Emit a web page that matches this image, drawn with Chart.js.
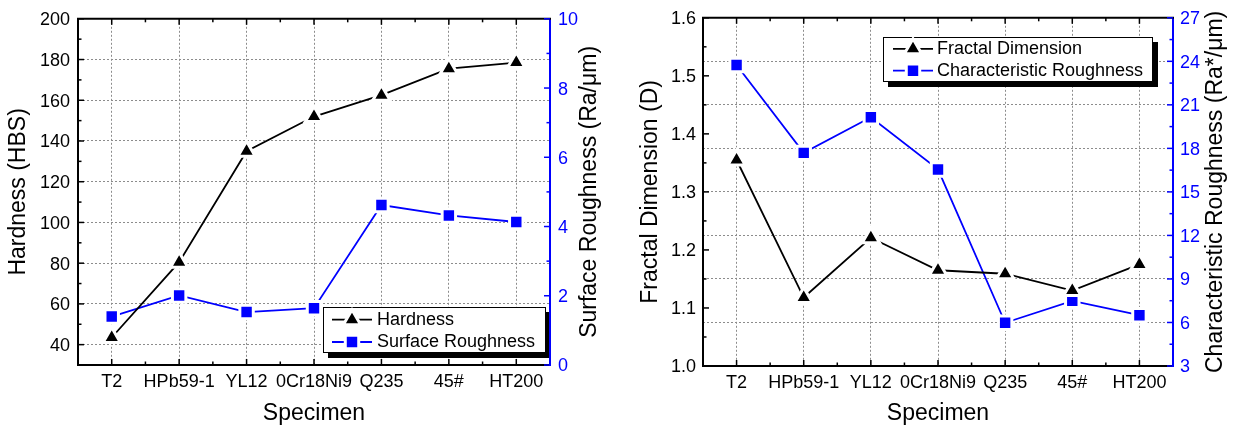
<!DOCTYPE html>
<html><head><meta charset="utf-8">
<script src="https://cdn.jsdelivr.net/npm/chart.js@4.4.1/dist/chart.umd.min.js"></script>
<style>
html,body{margin:0;padding:0;background:#fff;}
#wrap{position:relative;width:1235px;height:428px;overflow:hidden;background:#fff;}
.box{position:absolute;top:0;height:428px;}
#b1{left:0;width:617px;}
#b2{left:617px;width:618px;}
</style></head><body>
<div id="wrap">
  <div class="box" id="b1"><canvas id="c1"></canvas></div>
  <div class="box" id="b2"><canvas id="c2"></canvas></div>
</div>
<script>
// ---------------- data ----------------
const specimens = ['T2', 'HPb59-1', 'YL12', '0Cr18Ni9', 'Q235', '45#', 'HT200'];
const hardness = [43.5, 80.5, 135, 152, 162.5, 175.5, 178.5];
const surfaceRoughness = [1.40, 2.01, 1.53, 1.64, 4.62, 4.32, 4.13];
const fractalDimension = [1.355, 1.118, 1.221, 1.165, 1.159, 1.130, 1.175];
const characteristicRoughness = [23.75, 17.69, 20.14, 16.55, 5.98, 7.49, 6.50];

const hardnessTicks = [40, 60, 80, 100, 120, 140, 160, 180, 200];
const surfaceTicks = [0, 2, 4, 6, 8, 10];
const fractalTicks = [1.0, 1.1, 1.2, 1.3, 1.4, 1.5, 1.6];
const charTicks = [3, 6, 9, 12, 15, 18, 21, 24, 27];

// ---------------- style ----------------
const FONT = "'Liberation Sans', Arial, sans-serif";
const BLUE = '#0000ff';
const GRID = '#8c8c8c';
Chart.defaults.font.family = FONT;

function marker(ctx, style, r, x, y) {
  ctx.beginPath();
  if (style === 'triangle') {
    let a = 0;
    ctx.moveTo(x + Math.sin(a) * r, y - Math.cos(a) * r);
    a += 2 * Math.PI / 3;
    ctx.lineTo(x + Math.sin(a) * r, y - Math.cos(a) * r);
    a += 2 * Math.PI / 3;
    ctx.lineTo(x + Math.sin(a) * r, y - Math.cos(a) * r);
    ctx.closePath();
  } else {
    const s = Math.SQRT1_2 * r;
    ctx.rect(x - s, y - s, 2 * s, 2 * s);
  }
  ctx.fill();
  ctx.stroke();
}

const originFrame = {
  id: 'originFrame',
  afterDraw(chart, args, o) {
    const ctx = chart.ctx, a = chart.chartArea;
    const xs = chart.scales.x, yl = chart.scales.y, yr = chart.scales.y1;
    const MAJ = 6, MIN = 3.5;
    const seg = (x1, y1, x2, y2) => { ctx.beginPath(); ctx.moveTo(x1, y1); ctx.lineTo(x2, y2); ctx.stroke(); };
    ctx.save();
    // top frame line
    ctx.strokeStyle = '#000'; ctx.lineWidth = 2;
    seg(a.left - 1, a.top, a.right + 1, a.top);
    // x ticks (bottom + mirrored top), inward
    ctx.lineWidth = 1.5;
    const n = xs.getLabels().length;
    for (let i = 0; i < n; i++) {
      const p = xs.getPixelForValue(i);
      seg(p, a.bottom, p, a.bottom - MAJ);
      seg(p, a.top, p, a.top + MAJ);
      if (i > 0) {
        const m = xs.getPixelForValue(i - 0.5);
        seg(m, a.bottom, m, a.bottom - MIN);
        seg(m, a.top, m, a.top + MIN);
      }
    }
    const yTicks = (scale, vals, x0, dir, color) => {
      ctx.strokeStyle = color;
      vals.forEach((v, i) => {
        const p = scale.getPixelForValue(v);
        seg(x0, p, x0 + dir * MAJ, p);
        if (i > 0) {
          const m = scale.getPixelForValue((v + vals[i - 1]) / 2);
          seg(x0, m, x0 + dir * MIN, m);
        }
      });
    };
    yTicks(yl, o.leftTicks, a.left, 1, '#000');
    yTicks(yr, o.rightTicks, a.right, -1, BLUE);
    // right axis title (reads bottom-to-top)
    ctx.save();
    ctx.translate(o.rightTitle.x, (a.top + a.bottom) / 2);
    ctx.rotate(-Math.PI / 2);
    ctx.font = '23px ' + FONT;
    ctx.fillStyle = '#000';
    ctx.textAlign = 'center';
    ctx.textBaseline = 'middle';
    ctx.fillText(o.rightTitle.text, 0, 0);
    ctx.restore();
    // legend with shadow
    const L = o.legend;
    ctx.save();
    ctx.beginPath();
    ctx.rect(a.left + 1, a.top + 1, a.right - a.left - 2, a.bottom - a.top - 2);
    ctx.clip();
    ctx.fillStyle = '#000'; ctx.fillRect(L.x + 5, L.y + 5, L.w, L.h);
    ctx.fillStyle = '#fff'; ctx.fillRect(L.x, L.y, L.w, L.h);
    ctx.strokeStyle = '#000'; ctx.lineWidth = 1;
    ctx.strokeRect(L.x + 0.5, L.y + 0.5, L.w - 1, L.h - 1);
    chart.data.datasets.forEach((ds, i) => {
      const y = L.y + L.row0 + i * L.gap;
      ctx.strokeStyle = ds.borderColor; ctx.lineWidth = ds.borderWidth;
      seg(L.lx1, y, L.lx2, y);
      ctx.fillStyle = ds.pointBackgroundColor;
      ctx.strokeStyle = ds.pointBorderColor;
      ctx.lineWidth = ds.pointBorderWidth;
      marker(ctx, ds.pointStyle, ds.pointRadius, L.mx, y);
      ctx.fillStyle = '#000';
      ctx.font = '18px ' + FONT;
      ctx.textAlign = 'left';
      ctx.textBaseline = 'middle';
      ctx.fillText(ds.label, L.tx, y);
    });
    ctx.restore();
    ctx.restore();
  }
};

function ds(label, data, axis, color, style) {
  return {
    label, data, yAxisID: axis,
    borderColor: color, backgroundColor: color, borderWidth: 1.8, tension: 0,
    pointStyle: style, pointRadius: style === 'triangle' ? 10 : 9.5,
    pointBackgroundColor: color, pointBorderColor: '#fff', pointBorderWidth: 3,
    pointHoverRadius: style === 'triangle' ? 10 : 9.5
  };
}

function xScale(height) {
  return {
    type: 'category', offset: true,
    grid: { color: GRID, lineWidth: 1, drawTicks: false },
    border: { display: true, color: '#000', width: 2, dash: [2, 2] },
    ticks: { color: '#000', font: { size: 18 }, padding: 6, maxRotation: 0, autoSkip: false },
    title: { display: true, text: 'Specimen', color: '#000', font: { size: 23 }, padding: { top: 0, bottom: 1 } },
    afterFit: s => { s.height = height; }
  };
}

function yScale(pos, min, max, tickVals, color, width, gridOn, pad, fmt, title, titlePad) {
  const o = {
    type: 'linear', position: pos, min, max,
    afterBuildTicks: s => { s.ticks = tickVals.map(v => ({ value: v })); },
    grid: { display: gridOn, color: GRID, lineWidth: 1, drawTicks: false, drawOnChartArea: true },
    border: { display: true, color: color, width: 2, dash: [2, 2] },
    ticks: { color: color, font: { size: 18 }, padding: pad, labelOffset: 1.5,
             callback: fmt || (v => v) },
    afterFit: s => { s.width = width; }
  };
  if (title) {
    o.title = { display: true, text: title, color: '#000', font: { size: 23 }, padding: { top: titlePad, bottom: 0 } };
  }
  return o;
}

// ---------------- chart 1 ----------------
new Chart(document.getElementById('c1'), {
  type: 'line',
  data: {
    labels: specimens,
    datasets: [
      ds('Hardness', hardness, 'y', '#000', 'triangle'),
      ds('Surface Roughness', surfaceRoughness, 'y1', BLUE, 'rect')
    ]
  },
  options: {
    responsive: true, maintainAspectRatio: false, animation: false, events: [],
    layout: { padding: { top: 16, left: 0, right: 0, bottom: 0 } },
    scales: {
      x: xScale(63),
      y: yScale('left', 30, 200, hardnessTicks, '#000', 78, true, 8, null, 'Hardness (HBS)', 4.5),
      y1: yScale('right', 0, 10, surfaceTicks, BLUE, 67, false, 8, null, null, 0)
    },
    plugins: {
      legend: { display: false }, tooltip: { enabled: false },
      originFrame: {
        leftTicks: hardnessTicks, rightTicks: surfaceTicks,
        rightTitle: { text: 'Surface Roughness (Ra/\u03bcm)', x: 590 },
        legend: { x: 323, y: 307, w: 223, h: 46, row0: 12.7, gap: 22.3, lx1: 332, lx2: 372, mx: 352, tx: 377 }
      }
    }
  },
  plugins: [originFrame]
});

// ---------------- chart 2 ----------------
new Chart(document.getElementById('c2'), {
  type: 'line',
  data: {
    labels: specimens,
    datasets: [
      ds('Fractal Dimension', fractalDimension, 'y', '#000', 'triangle'),
      ds('Characteristic Roughness', characteristicRoughness, 'y1', BLUE, 'rect')
    ]
  },
  options: {
    responsive: true, maintainAspectRatio: false, animation: false, events: [],
    layout: { padding: { top: 17, left: 0, right: 0, bottom: 0 } },
    scales: {
      x: xScale(62),
      y: yScale('left', 1.0, 1.6, fractalTicks, '#000', 86, false, 7, v => Number(v).toFixed(1), 'Fractal Dimension (D)', 20),
      y1: yScale('right', 3, 27, charTicks, BLUE, 62, true, 7, null, null, 0)
    },
    plugins: {
      legend: { display: false }, tooltip: { enabled: false },
      originFrame: {
        leftTicks: fractalTicks, rightTicks: charTicks,
        rightTitle: { text: 'Characteristic Roughness (Ra*/\u03bcm)', x: 599 },
        legend: { x: 266, y: 37, w: 270, h: 45, row0: 11.8, gap: 21.9, lx1: 276, lx2: 316, mx: 296, tx: 320 }
      }
    }
  },
  plugins: [originFrame]
});
</script>
</body></html>
